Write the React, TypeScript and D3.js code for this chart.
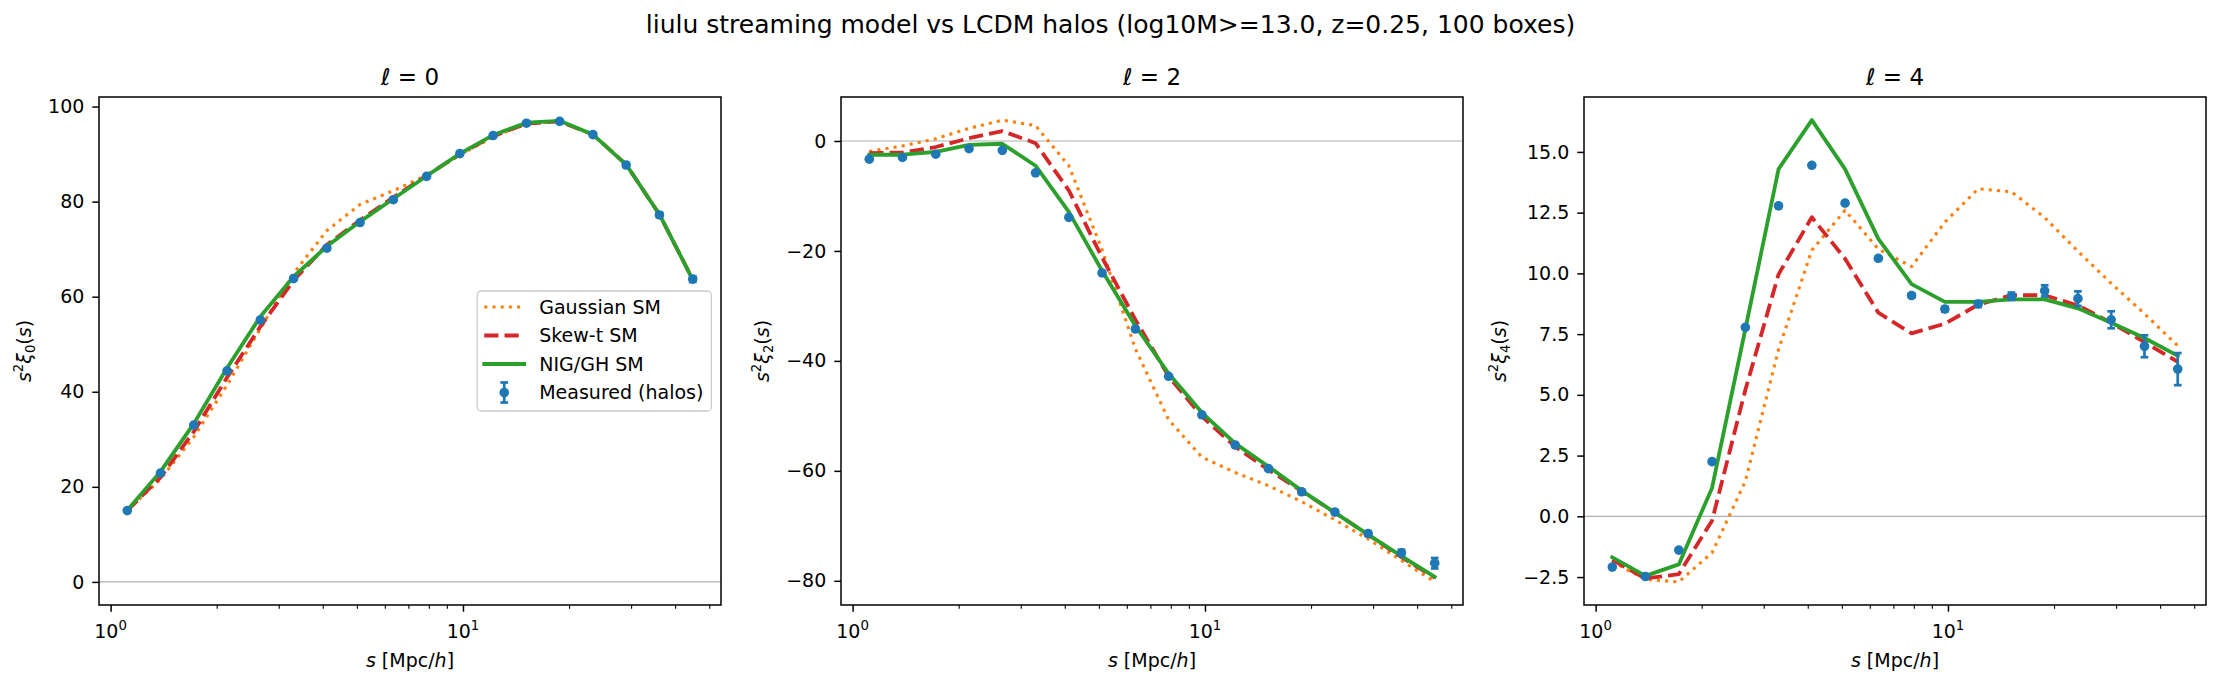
import React, { useEffect, useRef } from "react";
import * as d3 from "d3";

// separation bin centres, Mpc/h
const sBins = [1.115, 1.385, 1.722, 2.14, 2.66, 3.305, 4.108, 5.105, 6.345, 7.885, 9.799, 12.18, 15.14, 18.81, 23.38, 29.05, 36.11, 44.88];

// ell = 0
const measured0 = [15.0, 22.9, 33.0, 44.4, 55.1, 63.8, 70.2, 75.6, 80.4, 85.3, 90.1, 93.9, 96.5, 96.9, 94.1, 87.7, 77.2, 63.7];
const err0 = [0.05, 0.06, 0.07, 0.08, 0.09, 0.1, 0.11, 0.12, 0.14, 0.16, 0.18, 0.2, 0.22, 0.25, 0.3, 0.36, 0.44, 0.6];
const gauss0 = [15.0, 21.6, 30.5, 41.4, 53.3, 64.9, 73.9, 79.4, 82.3, 85.5, 89.8, 93.6, 96.4, 96.9, 94.1, 87.8, 77.3, 63.6];
const skewt0 = [15.0, 22.0, 31.6, 43.0, 53.7, 63.4, 70.9, 76.1, 80.9, 85.5, 90.0, 93.8, 96.4, 96.9, 94.1, 87.8, 77.3, 63.6];
const nig0 = [15.1, 23.2, 33.3, 45.0, 55.8, 64.2, 70.6, 75.8, 80.6, 85.4, 90.1, 94.0, 96.6, 97.0, 94.1, 87.8, 77.3, 63.6];

// ell = 2
const measured2 = [-3.3, -3.0, -2.4, -1.4, -1.7, -5.8, -13.9, -24.0, -34.2, -42.8, -49.8, -55.3, -59.6, -63.8, -67.5, -71.4, -74.9, -76.8];
const err2 = [0.04, 0.05, 0.05, 0.06, 0.07, 0.08, 0.09, 0.1, 0.12, 0.14, 0.16, 0.19, 0.23, 0.28, 0.34, 0.42, 0.55, 0.95];
const gauss2 = [-1.9, -0.9, 0.4, 2.3, 3.8, 2.8, -4.5, -19.8, -37.8, -50.7, -57.5, -60.3, -62.7, -65.6, -68.9, -72.4, -76.3, -80.2];
const skewt2 = [-2.2, -2.1, -1.1, 0.5, 1.8, -0.4, -9.0, -21.2, -32.5, -42.8, -50.1, -55.6, -59.8, -63.7, -67.6, -71.6, -75.7, -79.4];
const nig2 = [-2.5, -2.5, -2.0, -0.7, -0.5, -4.5, -12.9, -23.6, -33.6, -42.3, -49.4, -55.0, -59.2, -63.6, -67.6, -71.6, -75.5, -79.3];

// ell = 4
const measured4 = [-2.09, -2.48, -1.39, 2.25, 7.78, 12.78, 14.45, 12.89, 10.62, 9.09, 8.53, 8.74, 9.06, 9.28, 8.96, 8.09, 7.0, 6.06];
const err4 = [0.02, 0.02, 0.03, 0.03, 0.04, 0.04, 0.05, 0.06, 0.07, 0.08, 0.1, 0.12, 0.15, 0.23, 0.3, 0.35, 0.45, 0.66];
const gauss4 = [-1.86, -2.6, -2.7, -1.5, 1.44, 6.87, 10.95, 12.6, 11.0, 10.28, 12.11, 13.48, 13.36, 12.3, 10.91, 9.59, 8.34, 7.02];
const skewt4 = [-1.79, -2.56, -2.38, -0.18, 5.2, 9.96, 12.31, 10.6, 8.38, 7.53, 7.93, 8.71, 9.1, 9.1, 8.68, 7.97, 7.17, 6.36];
const nig4 = [-1.69, -2.45, -1.98, 1.17, 7.7, 14.29, 16.31, 14.29, 11.42, 9.56, 8.83, 8.83, 8.93, 8.93, 8.56, 7.97, 7.34, 6.61];

const yTicks0 = [0, 20, 40, 60, 80, 100];
const yTicks2 = [-80, -60, -40, -20, 0];
const yTicks4 = [-2.5, 0, 2.5, 5, 7.5, 10, 12.5, 15];
const xMajor = [1, 10];
const xMinor = [2, 3, 4, 5, 6, 7, 8, 9, 20, 30, 40, 50];

const seriesNames = ["Gaussian SM", "Skew-t SM", "NIG/GH SM", "Measured (halos)"];
const suptitle = "liulu streaming model vs LCDM halos (log10M>=13.0, z=0.25, 100 boxes)";

const panels = [
  { ell: 0, measured: measured0, err: err0, gauss: gauss0, skewt: skewt0, nig: nig0, yTicks: yTicks0, fmt: d3.format("d"), legend: true },
  { ell: 2, measured: measured2, err: err2, gauss: gauss2, skewt: skewt2, nig: nig2, yTicks: yTicks2, fmt: d3.format("d"), legend: false },
  { ell: 4, measured: measured4, err: err4, gauss: gauss4, skewt: skewt4, nig: nig4, yTicks: yTicks4, fmt: d3.format(".1f"), legend: false },
];

const W = 2221;
const H = 685;
const FS = 19;
const FONT = "DejaVu Sans";
const axLefts = [99, 841, 1584];
const axW = 622;
const axTop = 97;
const axBottom = 605;

const BLUE = "#1f77b4";
const ORANGE = "#ff7f0e";
const GREEN = "#2ca02c";
const RED = "#d62728";

const styles = [
  { color: ORANGE, width: 3.1, dash: "3.1,5.1", cap: "butt" },
  { color: RED, width: 3.8, dash: "14.2,6.1", cap: "butt" },
  { color: GREEN, width: 3.8, dash: null, cap: "square" },
];

function App() {
  const ref = useRef<SVGSVGElement>(null);

  useEffect(() => {
    const svg = d3.select(ref.current);
    svg.selectAll("*").remove();

    svg.append("rect").attr("width", W).attr("height", H).attr("fill", "#fff");

    svg.append("text")
      .attr("x", W / 2)
      .attr("y", 33)
      .attr("text-anchor", "middle")
      .attr("font-size", 25)
      .text(suptitle);

    // log x range with matplotlib-like 5% margins
    const lx = d3.extent(sBins).map((v) => Math.log10(v as number));
    const mx = (lx[1] - lx[0]) * 0.05;

    panels.forEach((p, i) => {
      const left = axLefts[i];
      const right = left + axW;

      const x = d3.scaleLog().domain([10 ** (lx[0] - mx), 10 ** (lx[1] + mx)]).range([left, right]);

      const allY = [
        0,
        ...p.gauss,
        ...p.skewt,
        ...p.nig,
        ...p.measured.map((v, j) => v + p.err[j]),
        ...p.measured.map((v, j) => v - p.err[j]),
      ];
      const [lo, hi] = d3.extent(allY) as [number, number];
      const my = (hi - lo) * 0.05;
      const y = d3.scaleLinear().domain([lo - my, hi + my]).range([axBottom, axTop]);

      const g = svg.append("g");

      // zero reference line
      g.append("line")
        .attr("x1", left).attr("x2", right)
        .attr("y1", y(0)).attr("y2", y(0))
        .attr("stroke", "#b0b0b0")
        .attr("stroke-width", 1.2);

      const line = d3.line<number>().x((d, j) => x(sBins[j])).y((d) => y(d));

      [p.gauss, p.skewt, p.nig].forEach((vals, k) => {
        const st = styles[k];
        g.append("path")
          .attr("d", line(vals))
          .attr("fill", "none")
          .attr("stroke", st.color)
          .attr("stroke-width", st.width)
          .attr("stroke-linejoin", "round")
          .attr("stroke-linecap", st.cap)
          .attr("stroke-dasharray", st.dash);
      });

      // measured points with error bars
      const pts = g.append("g").attr("stroke", BLUE).attr("fill", BLUE);
      p.measured.forEach((v, j) => {
        const cx = x(sBins[j]);
        const y1 = y(v - p.err[j]);
        const y2 = y(v + p.err[j]);
        pts.append("line").attr("x1", cx).attr("x2", cx).attr("y1", y1).attr("y2", y2).attr("stroke-width", 2.7);
        [y1, y2].forEach((cy) => {
          pts.append("line").attr("x1", cx - 3.85).attr("x2", cx + 3.85).attr("y1", cy).attr("y2", cy).attr("stroke-width", 2.7);
        });
        pts.append("circle").attr("cx", cx).attr("cy", y(v)).attr("r", 4.8).attr("stroke", "none");
      });

      // axes
      const yAxis = g.append("g")
        .attr("transform", `translate(${left},0)`)
        .call(d3.axisLeft(y).tickValues(p.yTicks).tickFormat(p.fmt as any).tickSizeInner(6.7).tickSizeOuter(0).tickPadding(8));
      yAxis.select(".domain").remove();
      yAxis.attr("font-size", FS).attr("font-family", FONT);
      yAxis.selectAll("line").attr("stroke-width", 1.5);

      const xAxisMinor = g.append("g")
        .attr("transform", `translate(0,${axBottom})`)
        .call(d3.axisBottom(x).tickValues(xMinor.filter((v) => v < x.domain()[1])).tickFormat(() => "").tickSizeInner(3.8).tickSizeOuter(0));
      xAxisMinor.select(".domain").remove();
      xAxisMinor.selectAll("line").attr("stroke-width", 1.1);

      const xAxis = g.append("g")
        .attr("transform", `translate(0,${axBottom})`)
        .call(d3.axisBottom(x).tickValues(xMajor).tickFormat(() => "").tickSizeInner(6.7).tickSizeOuter(0));
      xAxis.select(".domain").remove();
      xAxis.selectAll("line").attr("stroke-width", 1.5);

      xMajor.forEach((v, k) => {
        const t = g.append("text")
          .attr("x", x(v))
          .attr("y", 638)
          .attr("text-anchor", "middle")
          .attr("font-size", FS);
        t.append("tspan").text("10");
        t.append("tspan").attr("font-size", FS * 0.7).attr("dy", -8).text(String(k));
      });

      // spines
      g.append("rect")
        .attr("x", left).attr("y", axTop)
        .attr("width", axW).attr("height", axBottom - axTop)
        .attr("fill", "none")
        .attr("stroke", "#000")
        .attr("stroke-width", 1.5);

      // panel title
      g.append("text")
        .attr("x", (left + right) / 2)
        .attr("y", 85)
        .attr("text-anchor", "middle")
        .attr("font-size", 23)
        .text(`ℓ = ${p.ell}`);

      // x label
      const xl = g.append("text")
        .attr("x", (left + right) / 2)
        .attr("y", 667)
        .attr("text-anchor", "middle")
        .attr("font-size", FS);
      xl.append("tspan").attr("font-style", "italic").text("s");
      xl.append("tspan").text(" [Mpc/");
      xl.append("tspan").attr("font-style", "italic").text("h");
      xl.append("tspan").text("]");

      // y label, placed left of the tick labels (bbox is in the axis group's local space)
      const bb = (yAxis.node() as SVGGElement).getBBox();
      const ylx = left + bb.x - 17;
      const yly = (axTop + axBottom) / 2;
      const yl = g.append("text")
        .attr("transform", `translate(${ylx},${yly}) rotate(-90)`)
        .attr("text-anchor", "middle")
        .attr("font-size", FS);
      yl.append("tspan").attr("font-style", "italic").text("s");
      yl.append("tspan").attr("font-size", FS * 0.7).attr("dy", -8).text("2");
      yl.append("tspan").attr("font-style", "italic").attr("dy", 8).text("ξ");
      yl.append("tspan").attr("font-size", FS * 0.7).attr("dy", 4).text(String(p.ell));
      yl.append("tspan").attr("dy", -4).text("(");
      yl.append("tspan").attr("font-style", "italic").text("s");
      yl.append("tspan").text(")");

      if (p.legend) {
        const legH = 120;
        const lg = g.append("g");
        const box = lg.append("rect")
          .attr("rx", 4)
          .attr("fill", "#fff")
          .attr("fill-opacity", 0.8)
          .attr("stroke", "#cccccc")
          .attr("stroke-width", 1.3);
        const texts = seriesNames.map((name, k) =>
          lg.append("text")
            .attr("x", 62)
            .attr("y", 16 + k * 28.5)
            .attr("dy", "0.35em")
            .attr("font-size", FS)
            .text(name)
        );
        const tw = d3.max(texts, (t) => (t.node() as SVGTextElement).getComputedTextLength()) as number;
        const legW = 62 + tw + 8;
        box.attr("width", legW).attr("height", legH);
        styles.forEach((st, k) => {
          lg.append("line")
            .attr("x1", 7).attr("x2", 47)
            .attr("y1", 16 + k * 28.5).attr("y2", 16 + k * 28.5)
            .attr("stroke", st.color)
            .attr("stroke-width", st.width)
            .attr("stroke-linecap", st.cap)
            .attr("stroke-dasharray", st.dash);
        });
        const hy = 16 + 3 * 28.5;
        const hx = 27;
        lg.append("line").attr("x1", hx).attr("x2", hx).attr("y1", hy - 10).attr("y2", hy + 10).attr("stroke", BLUE).attr("stroke-width", 2.7);
        [hy - 10, hy + 10].forEach((cy) => {
          lg.append("line").attr("x1", hx - 3.85).attr("x2", hx + 3.85).attr("y1", cy).attr("y2", cy).attr("stroke", BLUE).attr("stroke-width", 2.7);
        });
        lg.append("circle").attr("cx", hx).attr("cy", hy).attr("r", 4.8).attr("fill", BLUE);
        lg.attr("transform", `translate(${right - 9.6 - legW},${(axTop + axBottom) / 2 - legH / 2})`);
      }
    });
  }, []);

  return (
    <>
      <style>{"body{margin:0}"}</style>
      <svg
        ref={ref}
        width={W}
        height={H}
        viewBox={`0 0 ${W} ${H}`}
        fontFamily={FONT}
        style={{ display: "block" }}
      />
    </>
  );
}

export default App;
